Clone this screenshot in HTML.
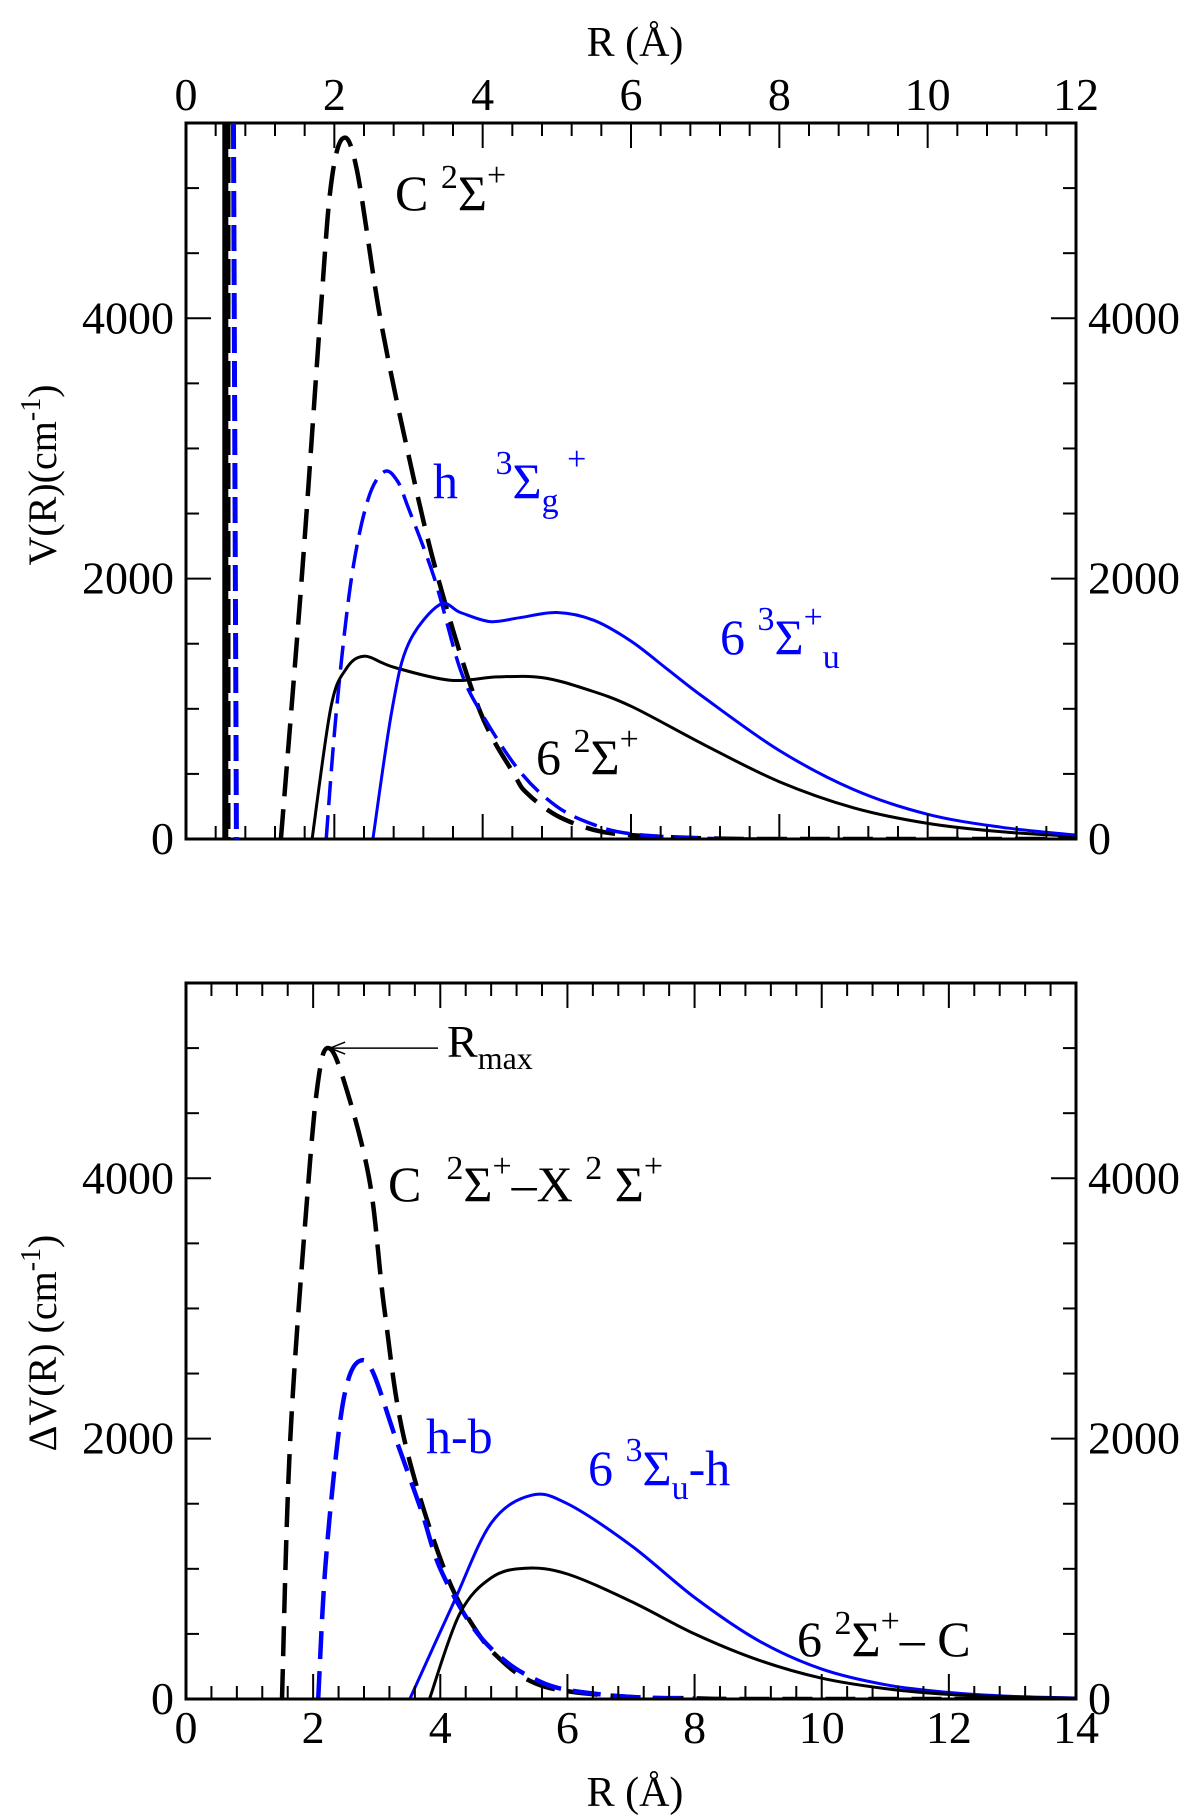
<!DOCTYPE html>
<html><head><meta charset="utf-8">
<style>
html,body{margin:0;padding:0;background:#fff;}
svg{display:block;font-family:"Liberation Serif","DejaVu Serif",serif;}
</style></head>
<body>
<svg id="chart" width="1200" height="1816" viewBox="0 0 1200 1816" xmlns="http://www.w3.org/2000/svg">
<g id="top"></g>
<g id="bot"></g>
<g font-size="44">
<text x="635" y="56" text-anchor="middle" font-size="42">R (Å)</text>
<text x="635" y="1806" text-anchor="middle" font-size="42">R (Å)</text>
<text transform="translate(56,475) rotate(-90)" text-anchor="middle" font-size="40">V(R)(cm<tspan dy="-16" font-size="28">-1</tspan><tspan dy="16">)</tspan></text>
<text transform="translate(56,1343) rotate(-90)" text-anchor="middle" font-size="40">ΔV(R) (cm<tspan dy="-16" font-size="28">-1</tspan><tspan dy="16">)</tspan></text>
<text x="395" y="210" font-size="50">C <tspan dy="-22" font-size="34">2</tspan><tspan dy="22">Σ</tspan><tspan dy="-24" font-size="34">+</tspan></text>
<text x="433" y="498" font-size="50" fill="#0000ff" xml:space="preserve">h   <tspan dy="-24" font-size="34">3</tspan><tspan dy="24">Σ</tspan><tspan dy="14" font-size="34">g</tspan><tspan dy="-42" font-size="34"> +</tspan></text>
<text x="720" y="654" font-size="50" fill="#0000ff">6 <tspan dy="-24" font-size="34">3</tspan><tspan dy="24">Σ</tspan><tspan dy="-26" font-size="34">+</tspan><tspan dy="40" font-size="34">u</tspan></text>
<text x="536" y="774" font-size="50">6 <tspan dy="-22" font-size="34">2</tspan><tspan dy="22">Σ</tspan><tspan dy="-24" font-size="34">+</tspan></text>
<text x="447" y="1057" font-size="46">R<tspan dy="12" font-size="32">max</tspan></text>
<text x="388" y="1201" font-size="50" xml:space="preserve">C  <tspan dy="-22" font-size="34">2</tspan><tspan dy="22">Σ</tspan><tspan dy="-24" font-size="34">+</tspan><tspan dy="24">–X </tspan><tspan dy="-22" font-size="34">2</tspan><tspan dy="22"> Σ</tspan><tspan dy="-24" font-size="34">+</tspan></text>
<text x="426" y="1453" font-size="50" fill="#0000ff">h-b</text>
<text x="588" y="1485" font-size="50" fill="#0000ff">6 <tspan dy="-24" font-size="34">3</tspan><tspan dy="24">Σ</tspan><tspan dy="14" font-size="34">u</tspan><tspan dy="-14">-h</tspan></text>
<text x="797" y="1656" font-size="50">6 <tspan dy="-22" font-size="34">2</tspan><tspan dy="22">Σ</tspan><tspan dy="-24" font-size="34">+</tspan><tspan dy="24">– C</tspan></text>
</g>
</svg>
<script>
// ---- data: top panel ----
const topCx = [1.28,1.56,1.81,1.95,2.11,2.3,2.62,3.0,3.4,3.95,4.42,4.6,5.0,5.5,6.0,7.0,8.0,12.0];
const topCy = [0,2000,4000,5000,5380,5150,4000,2950,2000,1000,500,350,180,70,30,5,0,0];
const topHx = [1.89,2.03,2.23,2.45,2.67,2.85,3.0,3.35,3.7,4.0,4.5,5.0,5.5,6.0,7.0,8.0];
const topHy = [0,1000,2000,2600,2820,2750,2540,2000,1300,950,520,250,110,40,5,0];
const top6sx = [1.70,1.95,2.15,2.4,2.8,3.56,4.2,4.8,5.4,6.0,7.0,8.0,9.0,10.0,11.0,12.0];
const top6sy = [0,1000,1300,1404,1320,1220,1245,1240,1150,1020,720,440,240,120,55,20];
const top6ux = [2.52,2.78,3.0,3.42,3.7,4.1,4.5,5.0,5.5,6.0,6.5,7.0,8.0,9.0,10.0,11.0,12.0];
const top6uy = [0,1000,1500,1800,1740,1670,1700,1740,1680,1520,1300,1080,680,380,190,90,30];
// ---- data: bottom panel ----
const botCXx = [1.51,1.64,1.93,2.08,2.22,2.45,2.88,3.12,3.43,4.06,4.6,5.07,5.5,6.0,7.0,8.0,9.0,14.0];
const botCXy = [0,2000,4000,4750,5000,4800,4000,3000,2000,1000,500,250,120,60,15,5,0,0];
const botHBx = [2.08,2.19,2.39,2.55,2.75,2.95,3.3,3.7,4.0,4.5,5.0,5.5,6.0,7.0,8.0];
const botHBy = [0,1000,2000,2450,2600,2500,2000,1450,1000,560,300,150,70,15,3];
const bot6uhx = [3.52,4.2,4.8,5.43,6.0,7.0,8.0,9.0,10.0,11.0,12.0,13.0,14.0];
const bot6uhy = [0,730,1350,1565,1500,1180,780,450,230,110,50,20,8];
const bot6sCx = [3.83,4.3,4.8,5.34,6.0,7.0,8.0,9.0,10.0,11.0,12.0,13.0,14.0];
const bot6sCy = [0,650,930,1005,960,750,500,300,160,80,35,15,5];
const yTicks = [0,2000,4000];
const topXTicks = [0,2,4,6,8,10,12];
const botXTicks = [0,2,4,6,8,10,12,14];

const NS="http://www.w3.org/2000/svg";
const L=186,R=1076,YMAX=5500;
function mk(tag,attrs,parent){const e=document.createElementNS(NS,tag);for(const k in attrs)e.setAttribute(k,attrs[k]);parent.appendChild(e);return e;}
function spline(pts){let d="M"+pts[0][0].toFixed(1)+","+pts[0][1].toFixed(1);
 for(let i=0;i<pts.length-1;i++){const p0=pts[Math.max(0,i-1)],p1=pts[i],p2=pts[i+1],p3=pts[Math.min(pts.length-1,i+2)];
  const c1=[p1[0]+(p2[0]-p0[0])/6,p1[1]+(p2[1]-p0[1])/6],c2=[p2[0]-(p3[0]-p1[0])/6,p2[1]-(p3[1]-p1[1])/6];
  d+=" C"+c1[0].toFixed(1)+","+c1[1].toFixed(1)+" "+c2[0].toFixed(1)+","+c2[1].toFixed(1)+" "+p2[0].toFixed(1)+","+p2[1].toFixed(1);}
 return d;}
function panel(g,top,bot,xmax,xticks,topLabels,botLabels,series,prefix){
 const sx=x=>L+x*(R-L)/xmax, sy=v=>bot-v*(bot-top)/YMAX;
 const cp="clip-"+prefix;
 const defs=mk("defs",{},g);const c=mk("clipPath",{id:cp},defs);mk("rect",{x:L,y:top,width:R-L,height:bot-top},c);
 const sg=mk("g",{"clip-path":"url(#"+cp+")"},g);
 series.forEach(s=>{const pts=s.x.map((x,i)=>[sx(x),sy(s.y[i])]);
  const p=mk("path",{d:spline(pts),fill:"none",stroke:s.color,"stroke-width":s.w,"stroke-dasharray":s.dash||"none","stroke-linecap":"butt"},sg);
  
  });
 const fr=mk("rect",{x:L,y:top,width:R-L,height:bot-top,fill:"none",stroke:"#000","stroke-width":3},g);
 
 
 for(let x=0;x<=xmax+1e-6;x+=0.4){const major=xticks.some(t=>Math.abs(t-x)<1e-6);const len=major?25:13;const X=sx(x);
  mk("line",{x1:X,y1:bot,x2:X,y2:bot-len,stroke:"#000","stroke-width":2},g);
  mk("line",{x1:X,y1:top,x2:X,y2:top+len,stroke:"#000","stroke-width":2},g);}
 for(let v=0;v<=YMAX;v+=500){const major=v%2000===0;const len=major?25:13;const Y=sy(v);
  mk("line",{x1:L,y1:Y,x2:L+len,y2:Y,stroke:"#000","stroke-width":2},g);
  mk("line",{x1:R,y1:Y,x2:R-len,y2:Y,stroke:"#000","stroke-width":2},g);}
 xticks.forEach(t=>{if(topLabels){const e=mk("text",{x:sx(t),y:top-13,"text-anchor":"middle","font-size":46},g);e.textContent=t;
   
   }
  if(botLabels){const e=mk("text",{x:sx(t),y:bot+44,"text-anchor":"middle","font-size":46},g);e.textContent=t;
   
   }});
 yTicks.forEach(v=>{const a=mk("text",{x:L-12,y:sy(v)+15,"text-anchor":"end","font-size":46},g);a.textContent=v;
  
  
  const b=mk("text",{x:R+12,y:sy(v)+15,"text-anchor":"start","font-size":46},g);b.textContent=v;
  
  });
 return {sx,sy};
}
const gt=document.getElementById("top"),gb=document.getElementById("bot");
const T=panel(gt,123,839,12,topXTicks,true,false,[
 {x:topCx,y:topCy,color:"#000",w:4.5,dash:"30 13",name:"c-state-curve"},
 {x:topHx,y:topHy,color:"#0000ff",w:3.5,dash:"24 10",name:"h-state-curve"},
 {x:top6sx,y:top6sy,color:"#000",w:3,name:"6-2sigma-curve"},
 {x:top6ux,y:top6uy,color:"#0000ff",w:3,name:"6-3sigma-u-curve"}],"top");
let w=mk("line",{x1:T.sx(0.53),y1:123,x2:T.sx(0.53),y2:839,stroke:"#000","stroke-width":6},gt);


w=mk("line",{x1:T.sx(0.58),y1:123,x2:T.sx(0.58),y2:839,stroke:"#000","stroke-width":3,"stroke-dasharray":"26 8"},gt);


w=mk("line",{x1:T.sx(0.64),y1:123,x2:T.sx(0.68),y2:839,stroke:"#0000ff","stroke-width":5,"stroke-dasharray":"26 8"},gt);


const B=panel(gb,983,1699,14,botXTicks,false,true,[
 {x:botCXx,y:botCXy,color:"#000",w:4.5,dash:"30 13",name:"c-minus-x-curve"},
 {x:botHBx,y:botHBy,color:"#0000ff",w:4.5,dash:"28 12",name:"h-minus-b-curve"},
 {x:bot6uhx,y:bot6uhy,color:"#0000ff",w:3,name:"6-3sigma-u-minus-h-curve"},
 {x:bot6sCx,y:bot6sCy,color:"#000",w:3,name:"6-2sigma-minus-c-curve"}],"bot");
const ax=B.sx(botCXx[4]),ay=B.sy(botCXy[4]);
const arr=mk("g",{},gb);


mk("line",{x1:ax+3,y1:ay,x2:438,y2:ay,stroke:"#000","stroke-width":1.5},arr);
mk("path",{d:"M"+(ax+18)+","+(ay-6)+" L"+(ax+3)+","+ay+" L"+(ax+18)+","+(ay+6),fill:"none",stroke:"#000","stroke-width":1.5},arr);
</script>
</body></html>
